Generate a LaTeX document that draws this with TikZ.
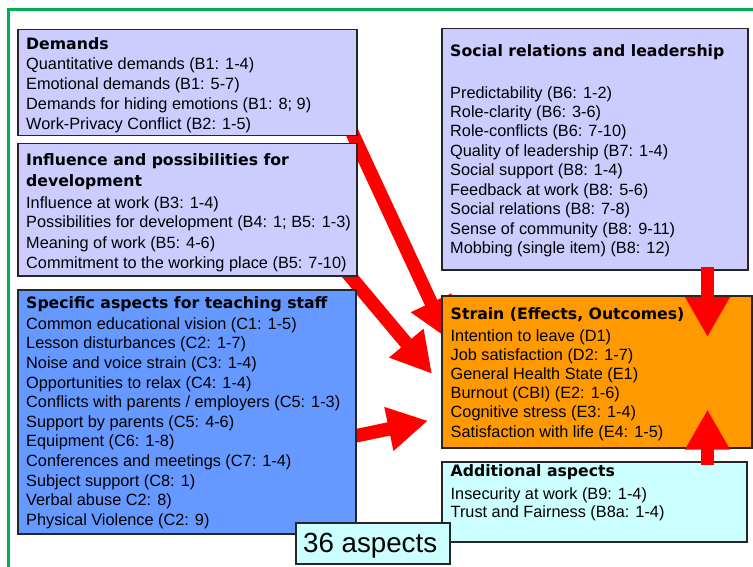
\documentclass[tikz,border=0pt]{standalone}
\usepackage{fontspec}
\setmainfont{Liberation Sans}
\newfontfamily\hdfont{DejaVu Sans}
\usetikzlibrary{arrows.meta,calc}
\definecolor{lav}{HTML}{CCCCFF}
\definecolor{specblue}{HTML}{6699FF}
\definecolor{strainor}{HTML}{FF9900}
\definecolor{lcyan}{HTML}{CCFFFF}
\definecolor{framegreen}{HTML}{00B050}
\pgfdeclarelayer{bg}
\pgfdeclarelayer{back}
\pgfdeclarelayer{front}
\pgfsetlayers{bg,back,main,front}
\begin{document}
\begin{tikzpicture}[x=1pt,y=-1pt,
  box/.style={draw=black!85, line width=1.5pt, rectangle, inner sep=0pt, anchor=north west},
  itm/.style={anchor=base west, inner sep=0pt, font=\fontsize{16.3}{19}\selectfont},
  hd/.style={anchor=base west, inner sep=0pt, font=\hdfont\bfseries\fontsize{15.7}{19}\selectfont},
  redarrow/.style={draw=red, line width=13.5pt, -{Triangle[width=42pt,length=40pt]}}
]
\useasboundingbox (0,0) rectangle (753,567);
\begin{pgfonlayer}{bg}
\fill[white] (0,0) rectangle (753,567);
\draw[framegreen, line width=3pt] (8,567) -- (8,10) -- (753,10);
\end{pgfonlayer}

% boxes
\node[box, fill=lav, minimum width=339pt, minimum height=106pt] (dem) at (17,29) {};
\node[box, fill=lav, minimum width=339pt, minimum height=132pt] (inf) at (17,143) {};
\node[box, fill=specblue, minimum width=338pt, minimum height=244pt] (spec) at (17,289) {};
\node[box, fill=lav, minimum width=306pt, minimum height=241pt] (soc) at (441,28) {};
\node[box, fill=strainor, minimum width=310pt, minimum height=152pt] (str) at (441,295) {};
\node[box, fill=lcyan, minimum width=305pt, minimum height=80pt] (add) at (441,461) {};
\node[box, fill=lcyan, minimum width=154pt, minimum height=41pt] (asp) at (295,522) {};

% texts
\node[hd] (demh) at (26,50) {Demands};
\foreach \t [count=\i from 0] in {{Quantitative demands (B1: 1-4)},{Emotional demands (B1: 5-7)},{Demands for hiding emotions (B1: 8; 9)},{Work-Privacy Conflict (B2: 1-5)}}
  \node[itm] (dem\i) at (26,{70+19.7*\i}) {\t};

\node[hd] (infh1) at (26,166) {Influence and possibilities for};
\node[hd] (infh2) at (26,187) {development};
\foreach \t [count=\i from 0] in {{Influence at work (B3: 1-4)},{Possibilities for development (B4: 1; B5: 1-3)},{Meaning of work (B5: 4-6)},{Commitment to the working place (B5: 7-10)}}
  \node[itm] (inf\i) at (26,{208+20*\i}) {\t};

\node[hd] (spech) at (26,308.5) {Specific aspects for teaching staff};
\foreach \t [count=\i from 0] in {{Common educational vision (C1: 1-5)},{Lesson disturbances (C2: 1-7)},{Noise and voice strain (C3: 1-4)},{Opportunities to relax (C4: 1-4)},{Conflicts with parents / employers (C5: 1-3)},{Support by parents (C5: 4-6)},{Equipment (C6: 1-8)},{Conferences and meetings (C7: 1-4)},{Subject support (C8: 1)},{Verbal abuse C2: 8)},{Physical Violence (C2: 9)}}
  \node[itm] (spec\i) at (26,{329.2+19.6*\i}) {\t};

\node[hd] (soch) at (450,57) {Social relations and leadership};
\foreach \t [count=\i from 0] in {{Predictability (B6: 1-2)},{Role-clarity (B6: 3-6)},{Role-conflicts (B6: 7-10)},{Quality of leadership (B7: 1-4)},{Social support (B8: 1-4)},{Feedback at work (B8: 5-6)},{Social relations (B8: 7-8)},{Sense of community (B8: 9-11)},{Mobbing (single item) (B8: 12)}}
  \node[itm] (soc\i) at (450,{98.2+19.4*\i}) {\t};

\node[hd] (strh) at (450.5,319.7) {Strain (Effects, Outcomes)};
\foreach \t [count=\i from 0] in {{Intention to leave (D1)},{Job satisfaction (D2: 1-7)},{General Health State (E1)},{Burnout (CBI) (E2: 1-6)},{Cognitive stress (E3: 1-4)},{Satisfaction with life (E4: 1-5)}}
  \node[itm] (str\i) at (450.5,{341.5+19.1*\i}) {\t};

\node[hd] (addh) at (450.5,476.5) {Additional aspects};
\node[itm] (add0) at (450.5,499) {Insecurity at work (B9: 1-4)};
\node[itm] (add1) at (450.5,517.5) {Trust and Fairness (B8a: 1-4)};

\node[anchor=base west, inner sep=0pt, font=\fontsize{27.7}{30}\selectfont] (asptext) at (303,552) {36 aspects};

% diagonal arrows behind the boxes
\begin{pgfonlayer}{back}
\draw[redarrow] ($(dem.south east)+(-12,-18)$) -- ($(str.north west)+(7,44)$);
\draw[redarrow] ($(inf.south east)+(-18,-13)$) -- ($(str.west)+(-9,2)$);
\draw[redarrow] ($(spec.east)+(-5,25)$) -- ($(str.west)+(-13,49)$);
\end{pgfonlayer}

% vertical arrows in front of the strain box
\begin{pgfonlayer}{front}
\draw[redarrow] ($(soc.south east)+(-41,-4)$) -- ($(str.north east)+(-45,42)$);
\draw[redarrow] ($(add.north east)+(-40,4)$) -- ($(str.south east)+(-45,-39)$);
\end{pgfonlayer}
\end{tikzpicture}
\end{document}
